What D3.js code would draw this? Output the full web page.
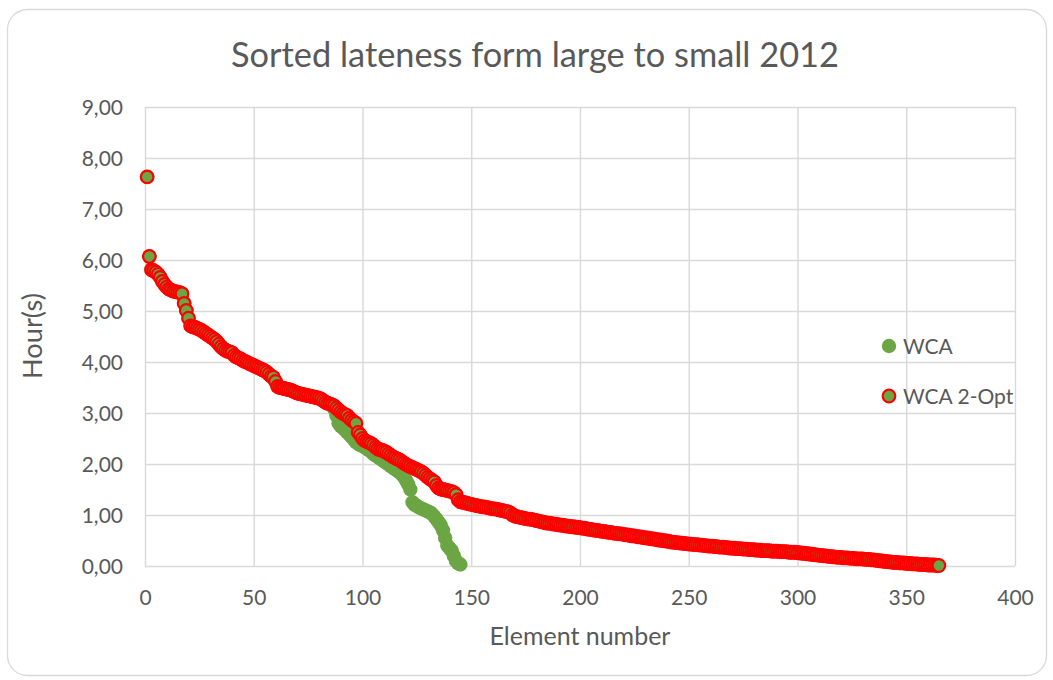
<!DOCTYPE html>
<html>
<head>
<meta charset="utf-8">
<script src="https://cdn.jsdelivr.net/npm/d3@7"></script>
<style>
  html, body { margin: 0; padding: 0; background: #ffffff; }
  svg { display: block; }
  text { font-family: Lato, "Open Sans", sans-serif; fill: #595959; }
</style>
</head>
<body>
<svg id="chart" width="1053" height="680"></svg>
<script>
// Chart text
const chartTitle = "Sorted lateness form large to small 2012";
const xTitle = "Element number";
const yTitle = "Hour(s)";
const seriesNames = ["WCA", "WCA 2-Opt"];

// Axis ticks
const xTicks = [0, 50, 100, 150, 200, 250, 300, 350, 400];
const yTicks = [0, 1, 2, 3, 4, 5, 6, 7, 8, 9];

// Lateness (hours), sorted from large to small; element number = position + 1
const wca = [
  7.63,6.07,5.81,5.79,5.76,5.72,5.66,5.58,5.52,5.47,
  5.43,5.41,5.39,5.38,5.37,5.36,5.34,5.15,5.01,4.86,
  4.71,4.69,4.68,4.66,4.64,4.62,4.59,4.56,4.53,4.50,
  4.47,4.44,4.40,4.35,4.30,4.26,4.23,4.21,4.20,4.18,
  4.13,4.10,4.08,4.06,4.03,4.01,3.99,3.97,3.95,3.93,
  3.91,3.89,3.87,3.85,3.83,3.80,3.76,3.72,3.70,3.62,
  3.52,3.50,3.49,3.48,3.47,3.46,3.45,3.43,3.41,3.39,
  3.38,3.37,3.36,3.35,3.34,3.33,3.32,3.31,3.30,3.29,
  3.27,3.24,3.21,3.19,3.18,3.16,3.08,2.95,2.80,2.74,
  2.71,2.67,2.62,2.58,2.53,2.48,2.43,2.40,2.37,2.36,
  2.33,2.30,2.27,2.24,2.20,2.17,2.14,2.11,2.08,2.05,
  2.02,1.99,1.96,1.93,1.90,1.87,1.84,1.80,1.75,1.68,
  1.60,1.50,1.25,1.20,1.18,1.15,1.13,1.11,1.09,1.07,
  1.05,1.02,0.97,0.92,0.86,0.80,0.70,0.55,0.40,0.35,
  0.30,0.20,0.10,0.05,0.03
];

const wca2Opt = [
  7.63,6.07,5.81,5.79,5.76,5.72,5.66,5.58,5.52,5.47,
  5.43,5.41,5.39,5.38,5.37,5.36,5.34,5.15,5.01,4.86,
  4.71,4.69,4.68,4.66,4.64,4.62,4.59,4.56,4.53,4.50,
  4.47,4.44,4.40,4.35,4.30,4.26,4.23,4.21,4.20,4.18,
  4.13,4.10,4.08,4.06,4.03,4.01,3.99,3.97,3.95,3.93,
  3.91,3.89,3.87,3.85,3.83,3.80,3.76,3.72,3.70,3.62,
  3.52,3.50,3.49,3.48,3.47,3.46,3.45,3.43,3.41,3.39,
  3.38,3.37,3.36,3.35,3.34,3.33,3.32,3.31,3.30,3.29,
  3.27,3.24,3.21,3.19,3.18,3.16,3.14,3.10,3.06,3.02,
  2.99,2.97,2.95,2.90,2.86,2.83,2.80,2.62,2.57,2.50,
  2.46,2.44,2.42,2.40,2.37,2.33,2.30,2.28,2.27,2.25,
  2.23,2.20,2.17,2.14,2.12,2.10,2.08,2.05,2.02,1.99,
  1.97,1.95,1.93,1.91,1.89,1.87,1.85,1.82,1.78,1.74,
  1.71,1.68,1.65,1.58,1.53,1.51,1.50,1.49,1.48,1.47,
  1.46,1.44,1.40,1.30,1.26,1.25,1.24,1.23,1.22,1.21,
  1.20,1.19,1.18,1.17,1.16,1.16,1.15,1.14,1.13,1.12,
  1.12,1.11,1.10,1.09,1.08,1.07,1.06,1.04,1.00,0.98,
  0.97,0.96,0.95,0.94,0.93,0.92,0.92,0.91,0.90,0.89,
  0.88,0.87,0.86,0.85,0.84,0.84,0.83,0.82,0.82,0.81,
  0.80,0.80,0.79,0.78,0.78,0.77,0.77,0.76,0.76,0.75,
  0.74,0.74,0.73,0.72,0.72,0.71,0.70,0.70,0.69,0.68,
  0.68,0.67,0.66,0.66,0.65,0.64,0.64,0.63,0.63,0.62,
  0.61,0.61,0.60,0.59,0.59,0.58,0.57,0.57,0.56,0.55,
  0.55,0.54,0.53,0.53,0.52,0.51,0.51,0.50,0.49,0.49,
  0.48,0.47,0.47,0.46,0.46,0.45,0.45,0.44,0.44,0.43,
  0.43,0.42,0.42,0.42,0.41,0.41,0.40,0.40,0.39,0.39,
  0.39,0.38,0.38,0.37,0.37,0.37,0.36,0.36,0.35,0.35,
  0.35,0.34,0.34,0.34,0.33,0.33,0.33,0.32,0.32,0.32,
  0.31,0.31,0.31,0.30,0.30,0.30,0.30,0.29,0.29,0.29,
  0.29,0.28,0.28,0.28,0.28,0.27,0.27,0.27,0.27,0.26,
  0.26,0.25,0.25,0.24,0.24,0.23,0.23,0.22,0.22,0.21,
  0.21,0.20,0.20,0.19,0.19,0.18,0.18,0.17,0.17,0.17,
  0.16,0.16,0.16,0.15,0.15,0.15,0.14,0.14,0.14,0.14,
  0.13,0.13,0.13,0.12,0.12,0.11,0.11,0.10,0.10,0.09,
  0.09,0.08,0.08,0.07,0.07,0.07,0.06,0.06,0.06,0.05,
  0.05,0.05,0.04,0.04,0.04,0.03,0.03,0.03,0.03,0.02,
  0.02,0.02,0.02,0.01,0.01
];

// Styling
const green = "#6ca544";
const red = "#ff0000";
const gridColor = "#d9d9d9";

const svg = d3.select("#chart");

// Outer rounded frame
svg.append("rect")
  .attr("x", 7.5).attr("y", 9.5)
  .attr("width", 1039).attr("height", 666)
  .attr("rx", 20).attr("ry", 20)
  .attr("fill", "#ffffff")
  .attr("stroke", "#d9d9d9")
  .attr("stroke-width", 1.3);

const plot = { left: 145, right: 1015, top: 107, bottom: 566 };

const x = d3.scaleLinear().domain([0, 400]).range([plot.left, plot.right]);
const y = d3.scaleLinear().domain([0, 9]).range([plot.bottom, plot.top]);

const comma = d3.formatLocale({ decimal: ",", thousands: ".", grouping: [3], currency: ["", ""] });
const fmtY = comma.format(".2f");

// Gridlines via axes with full-length ticks
const gx = svg.append("g")
  .attr("transform", `translate(0,${plot.bottom})`)
  .call(d3.axisBottom(x).tickValues(xTicks).tickSize(-(plot.bottom - plot.top)).tickFormat(d3.format("d")).tickPadding(18));
const gy = svg.append("g")
  .attr("transform", `translate(${plot.left},0)`)
  .call(d3.axisLeft(y).tickValues(yTicks).tickSize(-(plot.right - plot.left)).tickFormat(fmtY).tickPadding(22));

[gx, gy].forEach(g => {
  g.select(".domain").remove();
  g.selectAll(".tick line").attr("stroke", gridColor).attr("stroke-width", 1.4);
  g.selectAll(".tick text")
    .attr("fill", "#595959")
    .style("font-family", "Lato, 'Open Sans', sans-serif")
    .style("font-size", "21px");
});
gx.selectAll(".tick text").attr("dy", "0.71em").attr("y", 24);
gy.selectAll(".tick text").attr("dy", "0.36em");

// Series markers: WCA first, WCA 2-Opt on top
svg.append("g").selectAll("circle")
  .data(wca)
  .join("circle")
  .attr("cx", (d, i) => x(i + 1))
  .attr("cy", d => y(d))
  .attr("r", 7.2)
  .attr("fill", green);

svg.append("g").selectAll("circle")
  .data(wca2Opt)
  .join("circle")
  .attr("cx", (d, i) => x(i + 1))
  .attr("cy", d => y(d))
  .attr("r", 6.3)
  .attr("fill", green)
  .attr("stroke", red)
  .attr("stroke-width", 2.2);

// Fit a text element to a target width by scaling its font size
function fit(sel, target) {
  const w = sel.node().getComputedTextLength();
  const fs = parseFloat(sel.style("font-size"));
  sel.style("font-size", (fs * target / w) + "px");
}

// Title
const t = svg.append("text")
  .attr("x", 535).attr("y", 55)
  .attr("text-anchor", "middle")
  .attr("dy", "0.36em")
  .style("font-size", "31px")
  .text(chartTitle);
fit(t, 608);

// Axis titles
const xt = svg.append("text")
  .attr("x", 580).attr("y", 636)
  .attr("text-anchor", "middle")
  .attr("dy", "0.36em")
  .style("font-size", "22px")
  .text(xTitle);
fit(xt, 181);

const yt = svg.append("text")
  .attr("transform", "translate(32,336) rotate(-90)")
  .attr("text-anchor", "middle")
  .attr("dy", "0.36em")
  .style("font-size", "22px")
  .text(yTitle);
fit(yt, 86);

// Legend
const legend = svg.append("g");
const items = legend.selectAll("g")
  .data(seriesNames)
  .join("g")
  .attr("transform", (d, i) => `translate(889,${346 + i * 50})`);
items.append("circle")
  .attr("r", (d, i) => i === 0 ? 7.2 : 6.3)
  .attr("fill", green)
  .attr("stroke", (d, i) => i === 0 ? "none" : red)
  .attr("stroke-width", 2.2);
items.append("text")
  .attr("x", 14)
  .attr("dy", "0.36em")
  .style("font-size", "21px")
  .text(d => d);
</script>
</body>
</html>
